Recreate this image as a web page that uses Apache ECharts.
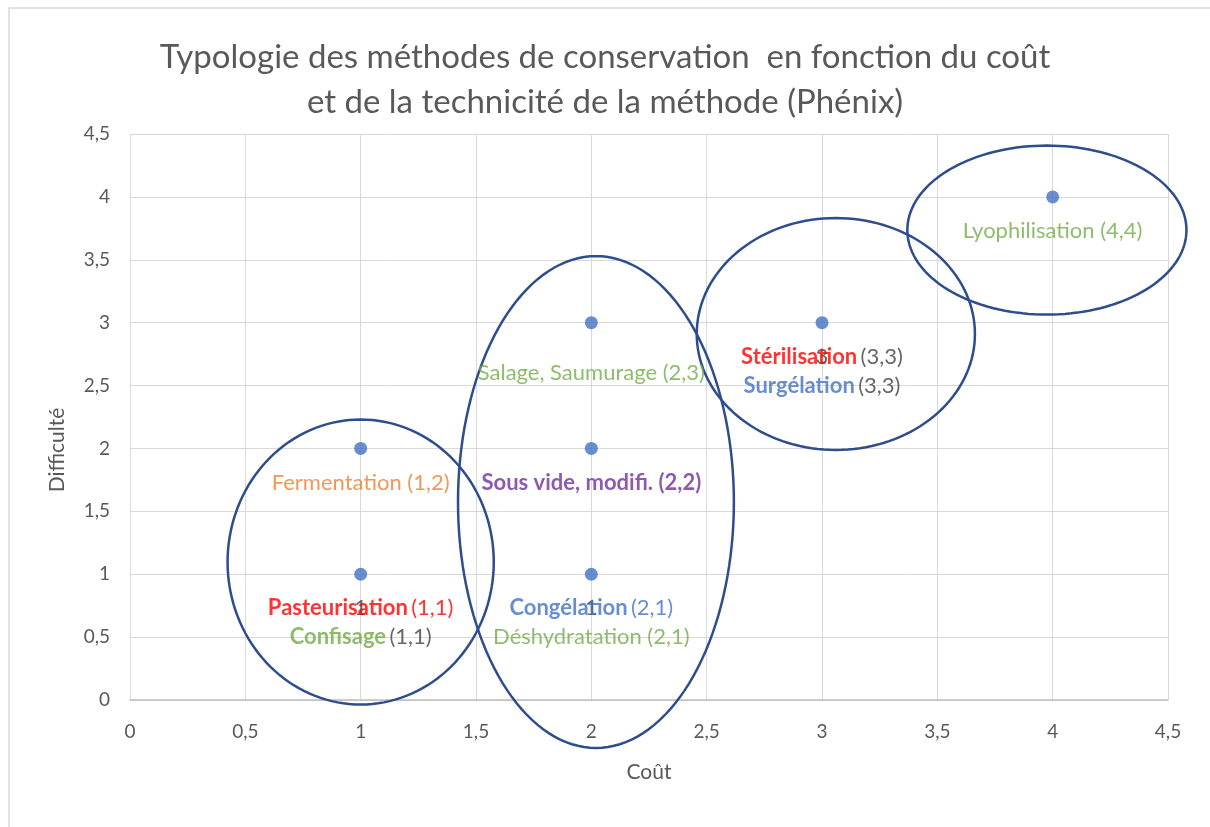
<!DOCTYPE html>
<html>
<head>
<meta charset="utf-8">
<script src="https://cdn.jsdelivr.net/npm/echarts@6/dist/echarts.min.js"></script>
<style>
  html, body { margin: 0; padding: 0; background: #fff; }
  #typologie_chart { width: 1210px; height: 827px; }
</style>
</head>
<body>
<div id="typologie_chart"></div>
<script>
  // points : coût (x) et difficulté (y)
  const costs = [1, 1, 2, 2, 2, 3, 4];
  const difficulties = [2, 1, 1, 2, 3, 3, 4];
  const pointLabels = [
    '{orange|Fermentation (1,2)}',
    '{redB|Pasteurisation} {red|(1,1)}\n{greenB|Confisage} {gray|(1,1)}',
    '{blueB|Congélation} {blue|(2,1)}\n{green|Déshydratation (2,1)}',
    '{purpleB|Sous vide, modifi. (2,2)}',
    '{green|Salage, Saumurage (2,3)}',
    '{redB|Stérilisation} {gray|(3,3)}\n{blueB|Surgélation} {gray|(3,3)}',
    '{green|Lyophilisation (4,4)}'
  ];
  // écart du libellé sous le point (Salage est plus bas)
  const labelGaps = [13, 13, 13, 13, 29, 13, 13];
  // étiquettes de valeur restées visibles sous certains libellés
  const valueLabelPoints = [1, 2, 5];

  // ellipses de regroupement (centre et rayons en unités des axes)
  const ellipseCx = [1.0, 2.02, 3.06, 3.975];
  const ellipseCy = [1.097, 1.574, 2.91, 3.736];
  const ellipseRx = [0.577, 0.598, 0.603, 0.605];
  const ellipseRy = [1.133, 1.955, 0.922, 0.672];

  const axisTicks = ['0', '0,5', '1', '1,5', '2', '2,5', '3', '3,5', '4', '4,5'];

  const font = 'Lato, "Open Sans", sans-serif';
  const labelSize = 22;
  const rich = {
    orange: { color: '#ED7D31' },
    red: { color: '#FF0000' },
    redB: { color: '#FF0000', fontWeight: 'bold' },
    green: { color: '#70AD47' },
    greenB: { color: '#70AD47', fontWeight: 'bold' },
    blue: { color: '#4472C4' },
    blueB: { color: '#4472C4', fontWeight: 'bold' },
    purpleB: { color: '#7030A0', fontWeight: 'bold' },
    gray: { color: '#404040' }
  };
  Object.keys(rich).forEach(k => {
    rich[k].fontSize = labelSize;
    rich[k].fontFamily = font;
    rich[k].lineHeight = 29;
  });

  const pointData = costs.map((c, i) => ({
    value: [c, difficulties[i]],
    label: { formatter: pointLabels[i], distance: labelGaps[i] }
  }));
  const valueData = valueLabelPoints.map(i => ({
    value: [costs[i], difficulties[i]],
    label: { distance: labelGaps[i] + 6.5 }
  }));
  const ellipseData = ellipseCx.map((cx, i) => [cx, ellipseCy[i], ellipseRx[i], ellipseRy[i]]);

  const tickLabel = v => axisTicks[Math.round(v * 2)] || String(v).replace('.', ',');

  const option = {
    backgroundColor: '#fff',
    animation: false,
    title: {
      text: 'Typologie des méthodes de conservation  en fonction du coût\net de la technicité de la méthode (Phénix)',
      left: 'center',
      top: 30,
      textStyle: {
        fontFamily: font,
        fontSize: 33,
        fontWeight: 'normal',
        color: '#595959',
        lineHeight: 45
      }
    },
    graphic: [
      {
        type: 'rect',
        shape: { x: 9, y: 8, width: 1230, height: 850 },
        style: { fill: 'none', stroke: '#D9D9D9', lineWidth: 1.5 },
        silent: true
      }
    ],
    grid: {
      left: 130,
      right: 42,
      top: 134,
      bottom: 127
    },
    xAxis: {
      type: 'value',
      min: 0,
      max: 4.5,
      interval: 0.5,
      name: 'Coût',
      nameLocation: 'middle',
      nameGap: 62,
      nameTextStyle: { color: '#595959', fontSize: 21, fontFamily: font },
      axisLine: { show: true, lineStyle: { color: '#BFBFBF', width: 1.5 } },
      axisTick: { show: false },
      axisLabel: { color: '#595959', fontSize: 19, fontFamily: font, margin: 22, formatter: tickLabel },
      splitLine: { show: true, showMinLine: true, showMaxLine: true, lineStyle: { color: '#D9D9D9', width: 1 } }
    },
    yAxis: {
      type: 'value',
      min: 0,
      max: 4.5,
      interval: 0.5,
      name: 'Difficulté',
      nameLocation: 'middle',
      nameGap: 62,
      nameTextStyle: { color: '#595959', fontSize: 21, fontFamily: font, padding: [0, 66, 0, 0] },
      axisLine: { show: false },
      axisTick: { show: false },
      axisLabel: { color: '#595959', fontSize: 19, fontFamily: font, margin: 20, formatter: tickLabel },
      splitLine: { show: true, showMinLine: true, showMaxLine: true, lineStyle: { color: '#D9D9D9', width: 1 } }
    },
    series: [
      {
        name: 'regroupements',
        type: 'custom',
        clip: false,
        silent: true,
        z: 3,
        data: ellipseData,
        renderItem: function (params, api) {
          const cx = api.value(0), cy = api.value(1), rx = api.value(2), ry = api.value(3);
          const pts = [];
          for (let k = 0; k < 144; k++) {
            const t = (k / 144) * Math.PI * 2;
            pts.push(api.coord([cx + rx * Math.cos(t), cy + ry * Math.sin(t)]));
          }
          return {
            type: 'polygon',
            shape: { points: pts },
            style: { fill: 'none', stroke: '#2E4D8C', lineWidth: 2.5 }
          };
        }
      },
      {
        name: 'valeurs',
        type: 'scatter',
        symbolSize: 0,
        silent: true,
        z: 4,
        data: valueData,
        label: {
          show: true,
          position: 'bottom',
          formatter: p => String(p.value[1]),
          color: '#404040',
          fontSize: labelSize,
          fontFamily: font,
          lineHeight: 29
        }
      },
      {
        name: 'méthodes',
        type: 'scatter',
        symbol: 'circle',
        symbolSize: 13,
        z: 5,
        itemStyle: { color: '#4472C4' },
        data: pointData,
        label: {
          show: true,
          position: 'bottom',
          align: 'center',
          rich: rich
        }
      }
    ]
  };

  const chart = echarts.init(document.getElementById('typologie_chart'));
  chart.setOption(option);
  window.addEventListener('resize', function () {
    chart.resize();
  });
</script>
</body>
</html>
